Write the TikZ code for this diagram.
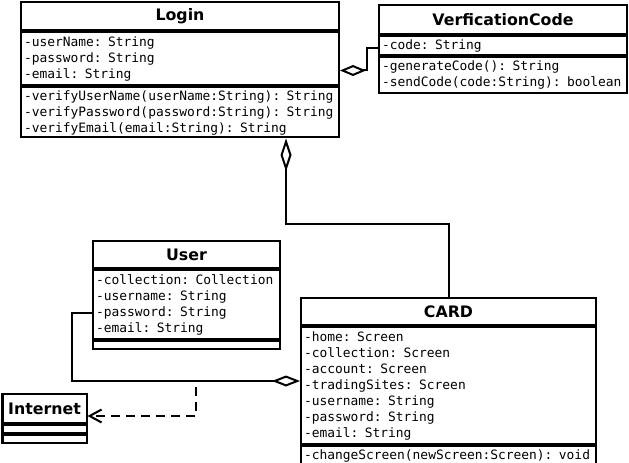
\documentclass[tikz,border=0pt]{standalone}
\usepackage{fontspec}
\newfontfamily\umlsans{DejaVu Sans}
\newfontfamily\umlmono{DejaVu Sans Mono}
\usetikzlibrary{arrows.meta}

\tikzset{
	umlhead/.style = {draw = black, line width = 2bp, anchor = north west, inner sep = 0pt,
		font = \umlsans\bfseries\fontsize{15.8bp}{18bp}\selectfont},
	umlpart/.style = {draw = black, line width = 2bp, anchor = north west, inner xsep = 3bp, inner ysep = 0pt,
		align = left, font = \umlmono\fontsize{12.9bp}{16bp}\selectfont},
	aggr/.style = {line width = 2bp, -{Diamond[fill = white, length = #1, width = 11bp]}},
	dep/.style = {line width = 2bp, dash pattern = on 9bp off 6bp, -{Straight Barb[length = 12bp, width = 13bp]}}
}

\begin{document}
\begin{tikzpicture}[x = 1bp, y = -1bp]
	\useasboundingbox (0, 0) rectangle (629, 463);
	
	% Login
	\node [umlhead, minimum width = 318bp, minimum height = 28bp] (loginHead) at (20, 1.5) {Login};
	\node [umlpart, text width = 312bp, minimum height = 53bp] (loginAttr) at (loginHead.south west) {-userName: String\\-password: String\\-email: String};
	\node [umlpart, text width = 312bp, minimum height = 50bp] (loginMeth) at (loginAttr.south west) {-verifyUserName(userName:String): String\\-verifyPassword(password:String): String\\-verifyEmail(email:String): String};
	
	% VerficationCode
	\node [umlhead, minimum width = 248bp, minimum height = 29bp] (vcHead) at (378, 4) {VerficationCode};
	\node [umlpart, text width = 242bp, minimum height = 19bp] (vcAttr) at (vcHead.south west) {-code: String};
	\node [umlpart, text width = 242bp, minimum height = 36bp] (vcMeth) at (vcAttr.south west) {-generateCode(): String\\-sendCode(code:String): boolean};
	
	% User
	\node [umlhead, minimum width = 187bp, minimum height = 27bp] (userHead) at (92, 240) {User};
	\node [umlpart, text width = 181bp, minimum height = 69bp] (userAttr) at (userHead.south west) {-collection: Collection\\-username: String\\-password: String\\-email: String};
	\node [umlpart, text width = 181bp, minimum height = 8bp] (userMeth) at (userAttr.south west) {};
	
	% Internet
	\node [umlhead, minimum width = 84bp, minimum height = 29bp] (netHead) at (1.5, 393) {Internet};
	\node [umlpart, text width = 78bp, minimum height = 8bp] (netAttr) at (netHead.south west) {};
	\node [umlpart, text width = 78bp, minimum height = 8bp] (netMeth) at (netAttr.south west) {};
	
	% CARD
	\node [umlhead, minimum width = 295bp, minimum height = 27bp] (cardHead) at (300, 297) {CARD};
	\node [umlpart, text width = 289bp, minimum height = 117bp] (cardAttr) at (cardHead.south west) {-home: Screen\\-collection: Screen\\-account: Screen\\-tradingSites: Screen\\-username: String\\-password: String\\-email: String};
	\node [umlpart, text width = 289bp, minimum height = 20.5bp] (cardMeth) at (cardAttr.south west) {-changeScreen(newScreen:Screen): void};
	
	% lines
	\draw [aggr = 26bp] ([yshift = -2.5bp]vcAttr.west) -- ++(-11, 0) |- ([yshift = -11.5bp]loginAttr.east);
	\draw [aggr = 33bp] (cardHead.north) -- ++(0, -73) -| ([xshift = 106bp]loginMeth.south);
	\draw [aggr = 28bp] ([yshift = -8.5bp]userAttr.west) -- ++(-20, 0) |- ([yshift = 4.5bp]cardAttr.west);
	
	\coordinate (depStart) at (196, 387);
	\draw [dep] (depStart) |- ([yshift = -7.5bp]netHead.east);
\end{tikzpicture}
\end{document}
